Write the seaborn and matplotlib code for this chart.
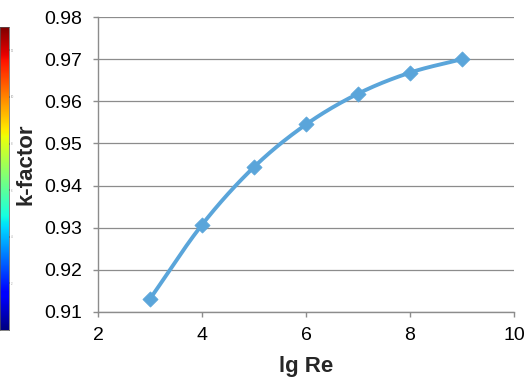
import numpy as np
import pandas as pd
import matplotlib
matplotlib.use("Agg")
import matplotlib.pyplot as plt
import seaborn as sns

lg_re = [3, 4, 5, 6, 7, 8, 9]
k_factor = [0.9131, 0.9307, 0.9444, 0.9545, 0.9618, 0.9668, 0.9700]
x_ticks = [2, 4, 6, 8, 10]
y_ticks = [0.91, 0.92, 0.93, 0.94, 0.95, 0.96, 0.97, 0.98]

sns.set_theme(style="white")
plt.rcParams['font.family'] = ['Liberation Sans', 'DejaVu Sans']

def catmull_rom(xs, ys, n=30):
    xs = np.asarray(xs, float); ys = np.asarray(ys, float)
    px = np.concatenate([[2*xs[0]-xs[1]], xs, [2*xs[-1]-xs[-2]]])
    py = np.concatenate([[2*ys[0]-ys[1]], ys, [2*ys[-1]-ys[-2]]])
    ox, oy = [], []
    for i in range(1, len(px)-2):
        t = np.linspace(0, 1, n, endpoint=(i == len(px)-3))
        for arr, out in ((px, ox), (py, oy)):
            p0, p1, p2, p3 = arr[i-1], arr[i], arr[i+1], arr[i+2]
            out.extend(0.5*((2*p1) + (-p0+p2)*t + (2*p0-5*p1+4*p2-p3)*t**2 + (-p0+3*p1-3*p2+p3)*t**3))
    return np.array(ox), np.array(oy)

cx, cy = catmull_rom(lg_re, k_factor)
curve = pd.DataFrame({"x": cx, "y": cy})
pts = pd.DataFrame({"lg Re": lg_re, "k-factor": k_factor})

fig = plt.figure(figsize=(5.29, 3.86), dpi=100)
ax = fig.add_axes([98/529, 1-312/386, (514-98)/529, (312-17)/386])

color = "#5AA5DA"
sns.lineplot(data=curve, x="x", y="y", ax=ax, color=color, linewidth=2.8, sort=False, estimator=None)
sns.scatterplot(data=pts, x="lg Re", y="k-factor", ax=ax, color=color, marker="D", s=60, edgecolor=color, linewidth=0.5, zorder=5)

ax.set_xlim(2, 10)
ax.set_ylim(0.91, 0.98)
ax.set_xticks(x_ticks)
ax.set_yticks(y_ticks)
ax.set_xticklabels([str(v) for v in x_ticks], fontsize=14)
ax.set_yticklabels([f"{v:.2f}" for v in y_ticks], fontsize=14)
ax.yaxis.grid(True, color="#8c8c8c", linewidth=0.9)
ax.xaxis.grid(False)
for s in ["top", "right"]:
    ax.spines[s].set_visible(False)
for s in ["left", "bottom"]:
    ax.spines[s].set_color("#8c8c8c")
    ax.spines[s].set_linewidth(1.0)
ax.tick_params(axis="both", which="major", direction="out", length=3.6, width=1.0, color="#8c8c8c", colors="black")
ax.tick_params(axis="x", bottom=True, pad=7)
ax.tick_params(axis="y", left=True, pad=8)
ax.set_xlabel("lg Re", fontsize=16, fontweight="bold", labelpad=9)
ax.set_ylabel("k-factor", fontsize=16, fontweight="bold", labelpad=5)

# cropped colour bar strip at left edge
cax = fig.add_axes([0.0, 1-330/386, 9/529, (330-27)/386])
grad = np.linspace(0, 1, 256).reshape(-1, 1)
cax.imshow(grad, aspect="auto", cmap="jet", origin="lower", extent=[0, 1, 0, 13])
cax.set_xticks([])
cax.set_yticks([2, 4, 6, 8, 10, 12])
cax.yaxis.tick_right()
cax.tick_params(axis="y", labelsize=2, length=1, pad=0.5, colors="#999999")
for s in cax.spines.values():
    s.set_linewidth(0.5)
    s.set_color("#555555")

fig.savefig("out.png", dpi=100)
